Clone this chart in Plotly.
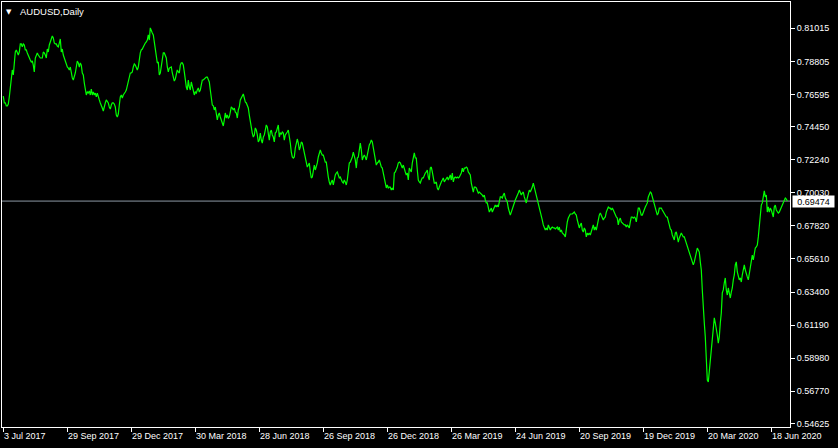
import plotly.graph_objects as go

symbol_title = "AUDUSD,Daily"

# Daily closes (one value per bar)
close_part1 = [
    0.7649, 0.7603, 0.7603, 0.7583, 0.7583, 0.7596, 0.7643, 0.7703, 0.7776, 0.7823,
    0.7790, 0.7870, 0.7943, 0.7957, 0.7937, 0.7923, 0.7943, 0.7997, 0.7997, 0.7977,
    0.7997, 0.7990, 0.7957, 0.7957, 0.7937, 0.7916, 0.7910, 0.7890, 0.7876, 0.7883,
    0.7856, 0.7810, 0.7903, 0.7916, 0.7937, 0.7923, 0.7910, 0.7903, 0.7903, 0.7903,
    0.7943, 0.7937, 0.7923, 0.7903, 0.7963, 0.7943, 0.7990, 0.8010, 0.8043, 0.8050,
    0.8037, 0.8003, 0.7997, 0.7997, 0.7983, 0.7977, 0.8003, 0.8030, 0.7943, 0.7963,
    0.7923, 0.7903, 0.7870, 0.7850, 0.7843, 0.7836, 0.7823, 0.7843, 0.7803, 0.7770,
    0.7756, 0.7776, 0.7803, 0.7843, 0.7883, 0.7870, 0.7843, 0.7870, 0.7856, 0.7803,
    0.7790, 0.7736, 0.7676, 0.7656, 0.7676, 0.7669, 0.7683, 0.7656, 0.7696, 0.7656,
    0.7676, 0.7656, 0.7669, 0.7643, 0.7669, 0.7636, 0.7623, 0.7603, 0.7576, 0.7569,
    0.7549, 0.7589, 0.7603, 0.7623, 0.7609, 0.7603, 0.7576, 0.7562, 0.7589, 0.7603,
    0.7603, 0.7596, 0.7576, 0.7522, 0.7509, 0.7529, 0.7589, 0.7643, 0.7656, 0.7636,
    0.7656, 0.7663, 0.7676, 0.7689, 0.7723, 0.7756, 0.7776, 0.7803, 0.7803, 0.7810,
]
close_part2 = [
    0.7843, 0.7863, 0.7856, 0.7836, 0.7823, 0.7843, 0.7903, 0.7937, 0.7957, 0.7963,
    0.7977, 0.7997, 0.8003, 0.8010, 0.8023, 0.8057, 0.8023, 0.8104, 0.8077, 0.8070,
    0.8057, 0.8010, 0.7970, 0.7903, 0.7870, 0.7876, 0.7790, 0.7803, 0.7843, 0.7890,
    0.7937, 0.7937, 0.7923, 0.7903, 0.7843, 0.7810, 0.7836, 0.7843, 0.7843, 0.7803,
    0.7770, 0.7749, 0.7763, 0.7790, 0.7823, 0.7810, 0.7803, 0.7856, 0.7870, 0.7870,
    0.7856, 0.7810, 0.7756, 0.7709, 0.7689, 0.7756, 0.7709, 0.7689, 0.7743, 0.7709,
    0.7676, 0.7656, 0.7676, 0.7669, 0.7689, 0.7703, 0.7676, 0.7689, 0.7723, 0.7756,
    0.7756, 0.7763, 0.7770, 0.7776, 0.7776, 0.7756, 0.7743, 0.7689, 0.7623, 0.7589,
    0.7583, 0.7556, 0.7576, 0.7509, 0.7489, 0.7522, 0.7536, 0.7509, 0.7489, 0.7469,
    0.7449, 0.7489, 0.7536, 0.7502, 0.7522, 0.7502, 0.7509, 0.7542, 0.7576, 0.7569,
    0.7556, 0.7569, 0.7542, 0.7536, 0.7502, 0.7556, 0.7576, 0.7623, 0.7636, 0.7643,
    0.7663, 0.7636, 0.7609, 0.7603, 0.7589, 0.7569, 0.7522, 0.7469, 0.7442, 0.7402,
    0.7375, 0.7389, 0.7436, 0.7422, 0.7389, 0.7342, 0.7355, 0.7402, 0.7355, 0.7335,
]
close_part3 = [
    0.7375, 0.7389, 0.7422, 0.7456, 0.7442, 0.7375, 0.7355, 0.7409, 0.7422, 0.7389,
    0.7375, 0.7342, 0.7402, 0.7409, 0.7442, 0.7456, 0.7375, 0.7402, 0.7396, 0.7409,
    0.7402, 0.7355, 0.7389, 0.7396, 0.7409, 0.7422, 0.7389, 0.7335, 0.7275, 0.7242,
    0.7235, 0.7242, 0.7302, 0.7342, 0.7362, 0.7335, 0.7289, 0.7309, 0.7342, 0.7335,
    0.7302, 0.7269, 0.7222, 0.7188, 0.7175, 0.7188, 0.7202, 0.7142, 0.7102, 0.7108,
    0.7168, 0.7188, 0.7155, 0.7175, 0.7202, 0.7242, 0.7275, 0.7289, 0.7269, 0.7255,
    0.7255, 0.7222, 0.7208, 0.7208, 0.7142, 0.7108, 0.7075, 0.7055, 0.7075, 0.7088,
    0.7055, 0.7108, 0.7122, 0.7135, 0.7142, 0.7122, 0.7102, 0.7108, 0.7088, 0.7075,
    0.7068, 0.7088, 0.7075, 0.7055, 0.7088, 0.7135, 0.7202, 0.7208, 0.7222, 0.7242,
    0.7275, 0.7255, 0.7222, 0.7168, 0.7235, 0.7242, 0.7309, 0.7335, 0.7289, 0.7222,
    0.7242, 0.7255, 0.7242, 0.7222, 0.7255, 0.7302, 0.7322, 0.7335, 0.7355, 0.7342,
    0.7302, 0.7242, 0.7208, 0.7188, 0.7202, 0.7208, 0.7222, 0.7188, 0.7175, 0.7168,
    0.7135, 0.7102, 0.7068, 0.7035, 0.7055, 0.7035, 0.7041, 0.7041, 0.7021, 0.7035,
]
close_part4 = [
    0.7021, 0.7135, 0.7142, 0.7155, 0.7175, 0.7202, 0.7208, 0.7202, 0.7188, 0.7168,
    0.7188, 0.7155, 0.7142, 0.7122, 0.7135, 0.7088, 0.7168, 0.7155, 0.7142, 0.7202,
    0.7255, 0.7269, 0.7235, 0.7235, 0.7155, 0.7088, 0.7075, 0.7068, 0.7088, 0.7102,
    0.7102, 0.7122, 0.7135, 0.7142, 0.7155, 0.7108, 0.7088, 0.7168, 0.7175, 0.7142,
    0.7088, 0.7068, 0.7068, 0.7075, 0.7035, 0.7021, 0.7041, 0.7068, 0.7075, 0.7088,
    0.7102, 0.7075, 0.7088, 0.7102, 0.7108, 0.7088, 0.7102, 0.7122, 0.7088, 0.7135,
    0.7075, 0.7102, 0.7108, 0.7102, 0.7108, 0.7102, 0.7108, 0.7122, 0.7135, 0.7168,
    0.7142, 0.7168, 0.7168, 0.7175, 0.7168, 0.7142, 0.7135, 0.7122, 0.7068, 0.7021,
    0.7008, 0.7041, 0.7041, 0.7035, 0.7021, 0.7001, 0.7008, 0.7001, 0.7001, 0.6988,
    0.6975, 0.6988, 0.6955, 0.6935, 0.6935, 0.6901, 0.6874, 0.6888, 0.6901, 0.6874,
    0.6888, 0.6908, 0.6921, 0.6908, 0.6921, 0.6908, 0.6941, 0.6975, 0.6975, 0.6968,
    0.6988, 0.7001, 0.6968, 0.6955, 0.6941, 0.6901, 0.6868, 0.6854, 0.6874, 0.6901,
    0.6921, 0.6935, 0.6955, 0.6968, 0.6988, 0.7001, 0.7021, 0.7008, 0.6988, 0.7001,
]
close_part5 = [
    0.7008, 0.6975, 0.6955, 0.6935, 0.6968, 0.6988, 0.7021, 0.7008, 0.7021, 0.7041,
    0.7068, 0.7041, 0.7021, 0.7001, 0.6968, 0.6941, 0.6908, 0.6888, 0.6854, 0.6821,
    0.6788, 0.6768, 0.6754, 0.6768, 0.6754, 0.6788, 0.6774, 0.6754, 0.6768, 0.6774,
    0.6768, 0.6768, 0.6761, 0.6768, 0.6774, 0.6754, 0.6774, 0.6741, 0.6754, 0.6734,
    0.6728, 0.6721, 0.6708, 0.6768, 0.6808, 0.6834, 0.6854, 0.6861, 0.6861, 0.6861,
    0.6868, 0.6874, 0.6861, 0.6854, 0.6821, 0.6788, 0.6768, 0.6788, 0.6801, 0.6754,
    0.6741, 0.6768, 0.6754, 0.6708, 0.6734, 0.6721, 0.6734, 0.6721, 0.6741, 0.6768,
    0.6788, 0.6754, 0.6774, 0.6754, 0.6788, 0.6834, 0.6854, 0.6868, 0.6854, 0.6834,
    0.6821, 0.6834, 0.6841, 0.6874, 0.6888, 0.6908, 0.6901, 0.6901, 0.6888, 0.6901,
    0.6888, 0.6868, 0.6854, 0.6841, 0.6834, 0.6788, 0.6821, 0.6834, 0.6808, 0.6801,
    0.6788, 0.6788, 0.6788, 0.6774, 0.6788, 0.6774, 0.6768, 0.6808, 0.6841, 0.6841,
    0.6834, 0.6841, 0.6834, 0.6808, 0.6868, 0.6901, 0.6901, 0.6874, 0.6854, 0.6854,
    0.6874, 0.6901, 0.6908, 0.6921, 0.6935, 0.6975, 0.7001, 0.7008, 0.7001, 0.6975,
]
close_part6 = [
    0.6955, 0.6921, 0.6901, 0.6868, 0.6854, 0.6868, 0.6901, 0.6901, 0.6901, 0.6888,
    0.6874, 0.6868, 0.6854, 0.6841, 0.6841, 0.6821, 0.6788, 0.6761, 0.6754, 0.6721,
    0.6701, 0.6688, 0.6734, 0.6741, 0.6708, 0.6674, 0.6701, 0.6721, 0.6734, 0.6721,
    0.6708, 0.6708, 0.6688, 0.6667, 0.6634, 0.6621, 0.6607, 0.6574, 0.6554, 0.6534,
    0.6521, 0.6541, 0.6574, 0.6621, 0.6634, 0.6621, 0.6607, 0.6541, 0.6487, 0.6354,
    0.6200, 0.6133, 0.6040, 0.5886, 0.5752, 0.5739, 0.5806, 0.5886, 0.5953, 0.6006,
    0.6106, 0.6167, 0.6133, 0.6100, 0.6053, 0.5999, 0.6040, 0.6133, 0.6200, 0.6334,
    0.6354, 0.6401, 0.6434, 0.6354, 0.6320, 0.6367, 0.6320, 0.6300, 0.6340, 0.6367,
    0.6421, 0.6454, 0.6521, 0.6541, 0.6474, 0.6454, 0.6421, 0.6434, 0.6407, 0.6454,
    0.6507, 0.6521, 0.6487, 0.6454, 0.6441, 0.6421, 0.6467, 0.6521, 0.6567, 0.6587,
    0.6554, 0.6587, 0.6634, 0.6641, 0.6654, 0.6708, 0.6801, 0.6888, 0.6921, 0.6935,
    0.6988, 0.7015, 0.6975, 0.6988, 0.6874, 0.6908, 0.6874, 0.6901, 0.6888, 0.6868,
    0.6841, 0.6908, 0.6921, 0.6888, 0.6874, 0.6868, 0.6874, 0.6888, 0.6908, 0.6921,
    0.6941, 0.6955, 0.6968, 0.6961, 0.69474,
]

date_tick_bars = [0, 64, 128, 192, 256, 320, 384, 448, 512, 576, 640, 704, 768]
date_tick_labels = [
    "3 Jul 2017", "29 Sep 2017", "29 Dec 2017", "30 Mar 2018", "28 Jun 2018",
    "26 Sep 2018", "26 Dec 2018", "26 Mar 2019", "24 Jun 2019", "20 Sep 2019",
    "19 Dec 2019", "20 Mar 2020", "18 Jun 2020",
]
price_ticks = [0.81015, 0.78805, 0.76595, 0.74450, 0.72240, 0.70030, 0.67820,
               0.65610, 0.63400, 0.61190, 0.58980, 0.56770, 0.54625]
price_tick_labels = ["0.81015", "0.78805", "0.76595", "0.74450", "0.72240", "0.70030",
                     "0.67820", "0.65610", "0.63400", "0.61190", "0.58980", "0.56770",
                     "0.54625"]
last_price = 0.69474
last_price_label = "0.69474"

close = close_part1 + close_part2 + close_part3 + close_part4 + close_part5 + close_part6
bars = list(range(len(close)))

FONT = "Liberation Sans, Arial, sans-serif"

fig = go.Figure()
fig.add_trace(go.Scatter(
    x=bars, y=close, mode="lines",
    line=dict(color="#00ff00", width=1.2),
    hoverinfo="skip", showlegend=False,
))

# Bid line
fig.add_shape(type="line", xref="paper", x0=0, x1=1, yref="y",
              y0=last_price, y1=last_price,
              line=dict(color="#8c98a4", width=1), layer="below")

annotations = []
for b, lab in zip(date_tick_bars, date_tick_labels):
    annotations.append(dict(
        x=b, xref="x", y=0, yref="paper", text=lab, showarrow=False,
        xanchor="left", yanchor="top", xshift=-1, yshift=-2,
        font=dict(family=FONT, size=9, color="#ffffff"),
    ))
# price label box
annotations.append(dict(
    x=1, xref="paper", y=last_price, yref="y", text=last_price_label,
    showarrow=False, xanchor="left", yanchor="middle", xshift=2,
    width=41, height=11, borderpad=0, bgcolor="#ffffff",
    font=dict(family=FONT, size=9, color="#000000"),
))
# title
annotations.append(dict(
    x=0, xref="paper", y=1, yref="paper", text=symbol_title, showarrow=False,
    xanchor="left", yanchor="top", xshift=16, yshift=-2,
    font=dict(family=FONT, size=9.5, color="#ffffff"),
))
annotations.append(dict(
    x=0, xref="paper", y=1, yref="paper", text="\u25bc", showarrow=False,
    xanchor="left", yanchor="top", xshift=2, yshift=-4,
    font=dict(family="DejaVu Sans", size=7, color="#ffffff"),
))

fig.update_layout(
    width=838, height=448,
    margin=dict(l=2, r=48, t=2, b=21, pad=0),
    paper_bgcolor="#000000", plot_bgcolor="#000000",
    showlegend=False,
    annotations=annotations,
    xaxis=dict(
        range=[-1.3, 786.7], showgrid=False, zeroline=False,
        showline=True, linecolor="#ffffff", linewidth=1, mirror=True,
        tickmode="array", tickvals=date_tick_bars, ticks="outside",
        ticklen=4, tickwidth=1, tickcolor="#ffffff", showticklabels=False,
    ),
    yaxis=dict(
        range=[0.54385, 0.82771], side="right", showgrid=False, zeroline=False,
        showline=True, linecolor="#ffffff", linewidth=1, mirror=True,
        tickmode="array", tickvals=price_ticks, ticktext=price_tick_labels,
        ticks="outside", ticklen=4, tickwidth=1, tickcolor="#ffffff",
        tickfont=dict(family=FONT, size=9, color="#ffffff"),
    ),
)

fig.write_html(
    "out.html",
    config={"displayModeBar": False},
    post_script="document.body.style.margin='0';document.body.style.background='#000';",
)
